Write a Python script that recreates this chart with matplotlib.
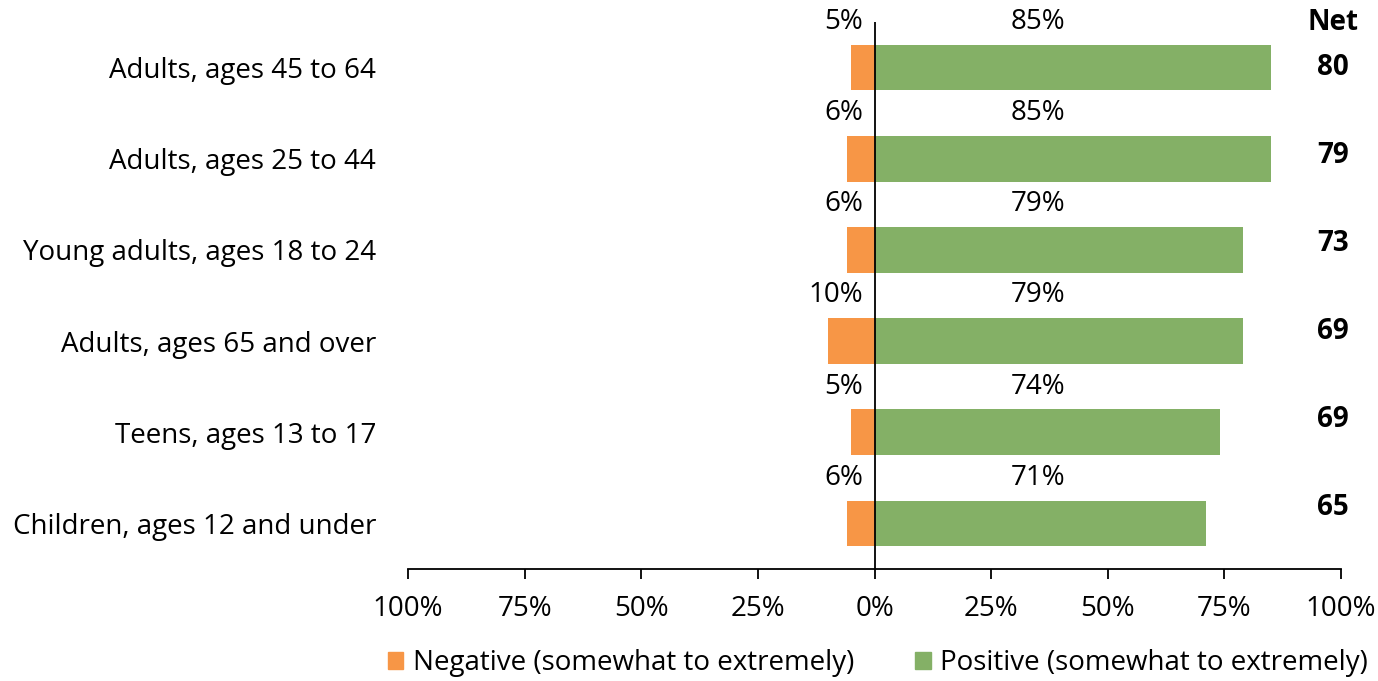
import matplotlib
matplotlib.use("Agg")
import matplotlib.pyplot as plt
from matplotlib.patches import Patch

plt.rcParams['font.family'] = ['Open Sans', 'DejaVu Sans']

categories = [
    "Adults, ages 45 to 64",
    "Adults, ages 25 to 44",
    "Young adults, ages 18 to 24",
    "Adults, ages 65 and over",
    "Teens, ages 13 to 17",
    "Children, ages 12 and under",
]
negative = [5, 6, 6, 10, 5, 6]
positive = [85, 85, 79, 79, 74, 71]
net = [80, 79, 73, 69, 69, 65]
xticks = [-100, -75, -50, -25, 0, 25, 50, 75, 100]
xtick_labels = ["100%", "75%", "50%", "25%", "0%", "25%", "50%", "75%", "100%"]

orange = "#F79646"
green = "#84B066"
fs = 20

fig = plt.figure(figsize=(13.78, 6.81), dpi=100)
ax = fig.add_axes([408 / 1378, 1 - 569 / 681, 933 / 1378, 547 / 681])

y = list(range(len(categories)))
ax.barh(y, [-v for v in negative], height=0.5, color=orange)
ax.barh(y, positive, height=0.5, color=green)

ax.set_xlim(-100, 100)
ax.set_ylim(len(categories) - 0.5, -0.5)
ax.axvline(0, color="black", lw=1.3)

for s in ["left", "right", "top"]:
    ax.spines[s].set_visible(False)
ax.spines["bottom"].set_linewidth(1.3)

ax.set_xticks(xticks)
ax.set_xticklabels(xtick_labels, fontsize=fs)
ax.tick_params(axis="x", length=7, width=1.3, pad=12)
ax.set_yticks(y)
ax.set_yticklabels(categories, fontsize=fs)
ax.tick_params(axis="y", length=0, pad=23)

for i in y:
    ax.text(-2.5, i - 0.5, f"{negative[i]}%", ha="right", va="center", fontsize=fs)
    ax.text(35, i - 0.5, f"{positive[i]}%", ha="center", va="center", fontsize=fs)
    ax.text(98.3, i * 0.966, f"{net[i]}", ha="center", va="center",
            fontsize=fs, fontweight="bold")
ax.text(98.3, -0.5, "Net", ha="center", va="center", fontsize=fs, fontweight="bold")

handles = [Patch(color=orange, label="Negative (somewhat to extremely)"),
           Patch(color=green, label="Positive (somewhat to extremely)")]
fig.legend(handles=handles, loc="center", bbox_to_anchor=(878 / 1378, 1 - 663 / 681),
           ncol=2, frameon=False, fontsize=fs, handlelength=0.55, handleheight=0.55,
           handletextpad=0.35, columnspacing=2.2)

fig.savefig("out.png", dpi=100)
